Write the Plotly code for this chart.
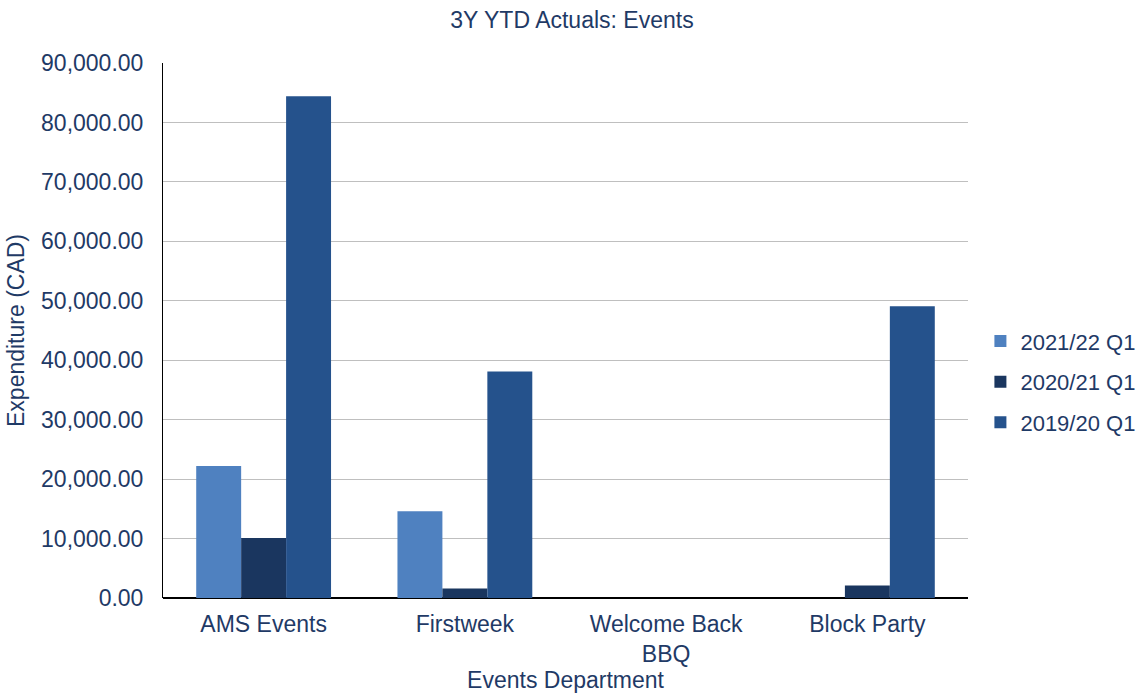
import plotly.graph_objects as go

categories = ["AMS Events", "Firstweek", "Welcome Back<br>BBQ", "Block Party"]
series_names = ["2021/22 Q1", "2020/21 Q1", "2019/20 Q1"]
fy2122 = [22200, 14600, 0, 0]
fy2021 = [10100, 1600, 0, 2100]
fy1920 = [84400, 38100, 0, 49100]
y_ticks = [0, 10000, 20000, 30000, 40000, 50000, 60000, 70000, 80000, 90000]

colors = ["#4F81C0", "#1A365F", "#25528C"]
text_color = "#1F3A66"
font_family = "Liberation Sans, Arial, Helvetica, sans-serif"

fig = go.Figure()
for name, vals, col in zip(series_names, [fy2122, fy2021, fy1920], colors):
    fig.add_trace(go.Bar(
        x=categories, y=vals, name=name, legendgroup=name,
        marker=dict(color=col, line=dict(width=0)),
    ))

fig.update_layout(
    width=1144, height=698,
    margin=dict(l=163, r=176, t=63, b=100),
    paper_bgcolor="white", plot_bgcolor="white",
    font=dict(family=font_family, color=text_color, size=23),
    title=dict(text="3Y YTD Actuals: Events", x=0.5, xanchor="center",
               y=0.971, yanchor="middle",
               font=dict(size=23, color=text_color)),
    barmode="group", bargap=0.33, bargroupgap=0,
    legend=dict(xref="container", yref="container",
                x=0.857, xanchor="left", y=0.453, yanchor="middle",
                font=dict(size=22, color=text_color),
                itemwidth=30, tracegroupgap=9),
    showlegend=True,
)

fig.update_xaxes(
    title=dict(text="Events Department", font=dict(size=23, color=text_color), standoff=4),
    showline=False, ticks="", ticklabelstandoff=10,
    tickfont=dict(size=23, color=text_color),
)
fig.update_yaxes(
    range=[0, 90000], tickvals=y_ticks, tickformat=",.2f",
    showgrid=True, gridcolor="#BFBFBF", gridwidth=1,
    zeroline=True, zerolinecolor="black", zerolinewidth=1.5,
    showline=True, linecolor="black", linewidth=1,
    ticks="", ticklabelstandoff=14, tickfont=dict(size=23, color=text_color),
    title=dict(text="Expenditure (CAD)", font=dict(size=23, color=text_color), standoff=10),
)

fig.write_html("out.html")
